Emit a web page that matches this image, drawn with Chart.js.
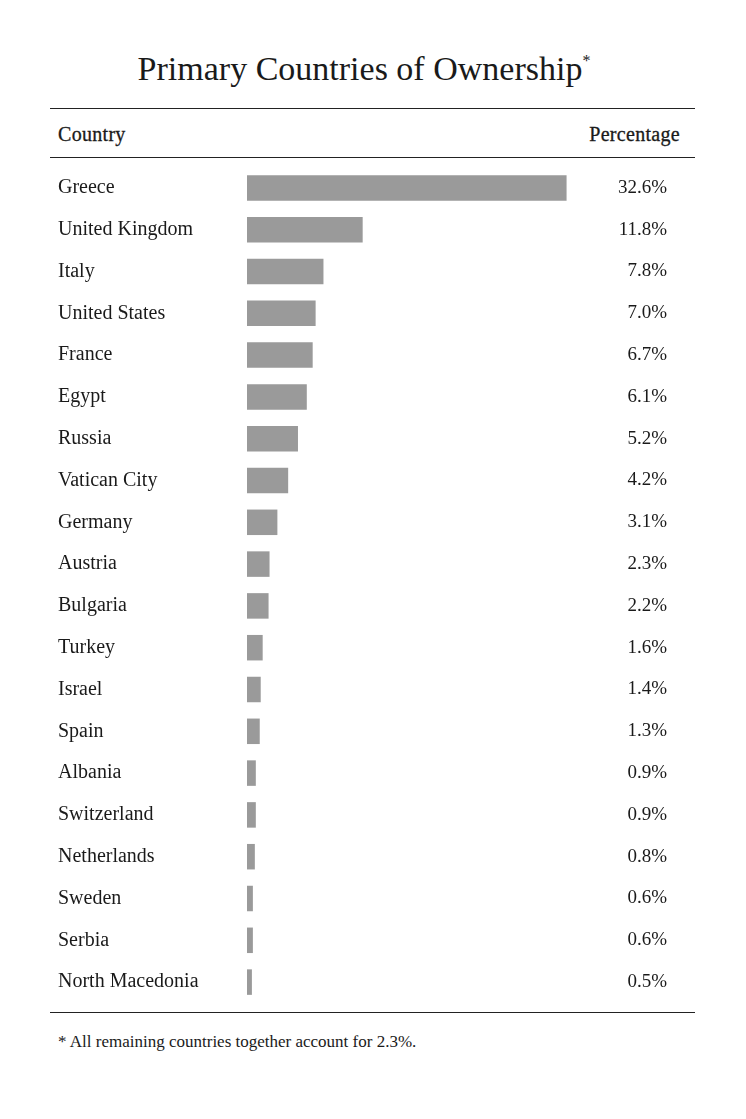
<!DOCTYPE html>
<html>
<head>
<meta charset="utf-8">
<script src="https://cdn.jsdelivr.net/npm/chart.js@4"></script>
<style>
  body { margin: 0; background: #fff; color: #1a1a1a; font-family: "Liberation Serif", "DejaVu Serif", serif; }
  .page { position: relative; width: 746px; height: 1119px; overflow: hidden; }
  .title { position: absolute; left: 4px; width: 720px; top: 50px; text-align: center; font-size: 34px; }
  .title sup { font-size: 16px; vertical-align: 14px; }
  .rule { position: absolute; left: 50px; width: 645px; height: 0; border-top: 1.5px solid #222; }
  .head { position: absolute; top: 123px; font-size: 20px; letter-spacing: 0.3px; -webkit-text-stroke: 0.3px #1a1a1a; }
  .foot { position: absolute; left: 58px; top: 1032px; font-size: 17px; }
  #chartBox { position: absolute; left: 0; top: 167px; width: 746px; height: 836px; }
</style>
</head>
<body>
<div class="page">
  <div class="title">Primary Countries of Ownership<sup>*</sup></div>
  <div class="rule" style="top:108px"></div>
  <div class="head" style="left:58px">Country</div>
  <div class="head" style="right:66px">Percentage</div>
  <div class="rule" style="top:157px"></div>
  <div id="chartBox"><canvas id="ownChart"></canvas></div>
  <div class="rule" style="top:1012px"></div>
  <div class="foot">* All remaining countries together account for 2.3%.</div>
</div>
<script>
// Data
const countries = ['Greece', 'United Kingdom', 'Italy', 'United States', 'France', 'Egypt', 'Russia',
    'Vatican City', 'Germany', 'Austria', 'Bulgaria', 'Turkey', 'Israel', 'Spain', 'Albania',
    'Switzerland', 'Netherlands', 'Sweden', 'Serbia', 'North Macedonia'];
const shares = [32.6, 11.8, 7.8, 7.0, 6.7, 6.1, 5.2, 4.2, 3.1, 2.3, 2.2, 1.6, 1.4, 1.3, 0.9, 0.9, 0.8, 0.6, 0.6, 0.5];
const axisMax = 45.7;

const serif = '"Liberation Serif", "DejaVu Serif", serif';

// Percent labels on the right side of each row
const valueLabels = {
    id: 'valueLabels',
    afterDatasetsDraw(chart) {
        const ctx = chart.ctx;
        const yScale = chart.scales.y;
        ctx.save();
        ctx.font = '19px ' + serif;
        ctx.fillStyle = '#1a1a1a';
        ctx.textAlign = 'right';
        ctx.textBaseline = 'middle';
        shares.forEach((v, i) => {
            ctx.fillText(v.toFixed(1) + '%', 667, yScale.getPixelForValue(i));
        });
        ctx.restore();
    }
};

document.addEventListener('DOMContentLoaded', function() {
    new Chart(document.getElementById('ownChart'), {
        type: 'bar',
        data: {
            labels: countries,
            datasets: [{
                data: shares,
                backgroundColor: '#9a9a9a',
                borderWidth: 0,
                categoryPercentage: 0.61,
                barPercentage: 1
            }]
        },
        options: {
            indexAxis: 'y',
            responsive: true,
            maintainAspectRatio: false,
            animation: false,
            layout: { padding: { left: 58, right: 51, top: 0, bottom: 0 } },
            plugins: { legend: { display: false }, tooltip: { enabled: false } },
            scales: {
                x: { display: false, min: 0, max: axisMax },
                y: {
                    grid: { display: false },
                    border: { display: false },
                    afterFit(scale) {
                        scale.width = 189;
                        scale.paddingTop = 0;
                        scale.paddingBottom = 0;
                    },
                    ticks: {
                        crossAlign: 'far',
                        color: '#1a1a1a',
                        font: { family: serif, size: 20 }
                    }
                }
            }
        },
        plugins: [valueLabels]
    });
});
</script>
</body>
</html>
